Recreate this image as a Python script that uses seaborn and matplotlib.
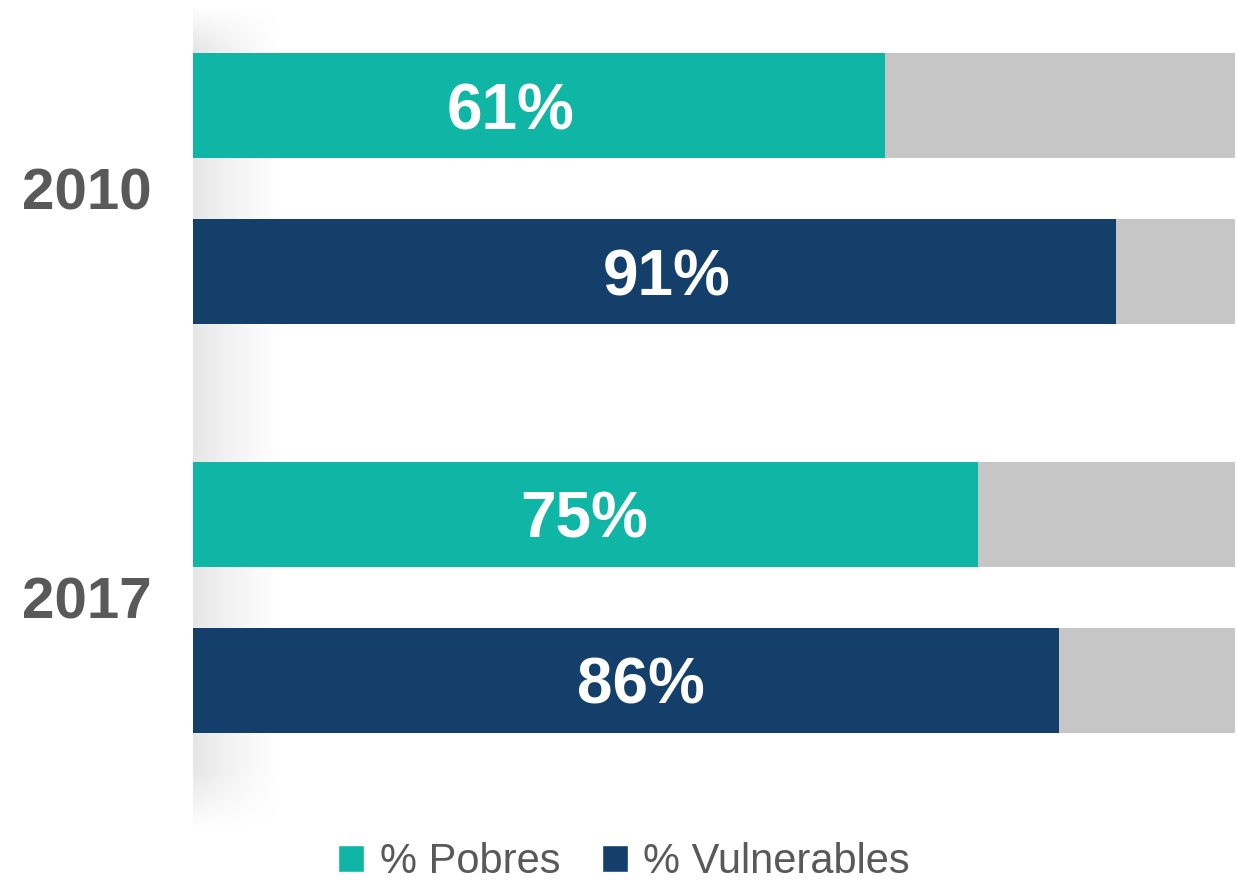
import numpy as np
import pandas as pd
import seaborn as sns
import matplotlib.pyplot as plt
from matplotlib.patches import Patch

sns.set_style("white")
plt.rcParams['font.family'] = ['Liberation Sans', 'DejaVu Sans']

# data
years = ["2010", "2017"]
series = ["% Pobres", "% Vulnerables"]
pobres_label = [61, 75]          # printed values
vulnerables_label = [91, 86]
pobres_bar = [66.4, 75.3]        # bar lengths as drawn (share of the grey 100% bar)
vulnerables_bar = [88.6, 83.1]

teal = "#10b6a5"
navy = "#143f6b"
grey_bg = "#c6c6c6"
text_grey = "#595959"

df = pd.DataFrame({
    "year": years * 2,
    "serie": [series[0]] * 2 + [series[1]] * 2,
    "valor": pobres_bar + vulnerables_bar,
    "label": pobres_label + vulnerables_label,
})
df_bg = df.assign(valor=100)

fig = plt.figure(figsize=(12.38, 8.81), dpi=100)

# soft shadow band on the left of the plot area
sh = fig.add_axes([193 / 1238, 1 - 830 / 881, 92 / 1238, 825 / 881], zorder=0)
t = np.linspace(0, 1, 200)
horiz = 0.22 * (1 - t) ** 1.3
v = np.linspace(0, 1, 400)
vert = np.clip(v / 0.05, 0, 1) * np.clip((1 - v) / 0.07, 0, 1)
alpha = vert[:, None] * horiz[None, :]
rgba = np.zeros((400, 200, 4))
rgba[..., :3] = 0.55
rgba[..., 3] = alpha
sh.imshow(rgba, aspect="auto", extent=[0, 1, 0, 1], origin="upper")
sh.axis("off")

ax = fig.add_axes([193 / 1238, 1 - 830 / 881, 1042 / 1238, 825 / 881], zorder=1)
ax.patch.set_alpha(0)

sns.barplot(data=df_bg, y="year", x="valor", hue="serie", palette=[grey_bg, grey_bg],
            orient="h", width=0.812, gap=0.364, legend=False, ax=ax, linewidth=0,
            saturation=1)
sns.barplot(data=df, y="year", x="valor", hue="serie", palette=[teal, navy],
            orient="h", width=0.812, gap=0.364, legend=False, ax=ax, linewidth=0,
            saturation=1)

# value labels, centred on the printed value
labels_by_serie = [pobres_label, vulnerables_label]
for cont, labs in zip(ax.containers[2:], labels_by_serie):
    for bar, lab in zip(cont.patches, labs):
        yc = bar.get_y() + bar.get_height() / 2
        ax.text(lab / 2, yc, f"{lab}%", ha="center", va="center_baseline",
                color="white", fontsize=46, fontweight="bold")

ax.set_xlim(0, 100)
ax.set_ylim(1.569, -0.449)
ax.set_xlabel("")
ax.set_ylabel("")
ax.set_xticks([])
sns.despine(ax=ax, left=True, bottom=True)
ax.tick_params(axis="y", length=0, pad=30, labelsize=42, labelcolor=text_grey)
for tl in ax.get_yticklabels():
    tl.set_fontweight("bold")

handles = [Patch(facecolor=teal, label=series[0]), Patch(facecolor=navy, label=series[1])]
fig.legend(handles=handles, loc="center", bbox_to_anchor=(624 / 1238, 1 - 862 / 881),
           ncol=2, frameon=False, fontsize=30, handlelength=0.62, handleheight=0.62,
           handletextpad=0.38, columnspacing=1.0, labelcolor=text_grey)

fig.savefig("out.png", dpi=100)
